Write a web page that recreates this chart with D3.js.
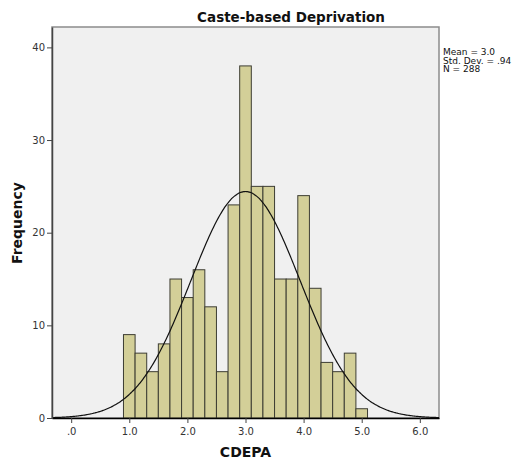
<!DOCTYPE html>
<html>
<head>
<meta charset="utf-8">
<script src="https://cdn.jsdelivr.net/npm/d3@7"></script>
<style>
  body { margin: 0; background: #fff; }
  text { font-family: "DejaVu Sans", sans-serif; }
</style>
</head>
<body>
<script>
// bin centres (width .2) and counts
var binCenters = [1.0, 1.2, 1.4, 1.6, 1.8, 2.0, 2.2, 2.4, 2.6, 2.8, 3.0, 3.2, 3.4, 3.6, 3.8, 4.0, 4.2, 4.4, 4.6, 4.8, 5.0];
var counts     = [9, 7, 5, 8, 15, 13, 16, 12, 5, 23, 38, 25, 25, 15, 15, 24, 14, 6, 5, 7, 1];
var xTicks = [0, 1, 2, 3, 4, 5, 6];
var yTicks = [0, 10, 20, 30, 40];
var statLines = ["Mean = 3.0", "Std. Dev. = .94", "N = 288"];
var mean = 3.0, sd = 0.94, n = 288, binWidth = 0.2;

var width = 522, height = 466;
var plotL = 52, plotR = 439, plotT = 27, plotB = 418;

var svg = d3.select("body").append("svg")
    .attr("width", width)
    .attr("height", height);

var x = d3.scaleLinear().domain([-0.33, 6.33]).range([plotL, plotR]);
var y = d3.scaleLinear().domain([0, 42.2]).range([plotB, plotT]);

// plot background
svg.append("rect")
   .attr("x", plotL).attr("y", plotT)
   .attr("width", plotR - plotL).attr("height", plotB - plotT)
   .attr("fill", "#f0f0f0")
   .attr("stroke", "#8c8c8c")
   .attr("stroke-width", 1.5);

// bars
svg.selectAll("rect.bar").data(counts).enter().append("rect")
   .attr("class", "bar")
   .attr("x", function(d, i) { return x(binCenters[i] - binWidth / 2); })
   .attr("y", function(d) { return y(d); })
   .attr("width", function(d, i) { return x(binCenters[i] + binWidth / 2) - x(binCenters[i] - binWidth / 2); })
   .attr("height", function(d) { return plotB - y(d); })
   .attr("fill", "#d3cf98")
   .attr("stroke", "#3d3d33")
   .attr("stroke-width", 1);

// normal curve
var curvePts = d3.range(-0.33, 6.331, 0.02).map(function(v) {
  var dens = Math.exp(-0.5 * Math.pow((v - mean) / sd, 2)) / (sd * Math.sqrt(2 * Math.PI));
  return [v, dens * n * binWidth];
});
svg.append("path")
   .datum(curvePts)
   .attr("fill", "none")
   .attr("stroke", "#111")
   .attr("stroke-width", 1.2)
   .attr("d", d3.line()
      .x(function(d) { return x(d[0]); })
      .y(function(d) { return y(d[1]); })
      .curve(d3.curveBasis));

// axes
var xAxis = svg.append("g")
   .attr("transform", "translate(0," + plotB + ")")
   .call(d3.axisBottom(x).tickValues(xTicks).tickSize(5).tickSizeOuter(0).tickPadding(5)
      .tickFormat(function(d) { return d === 0 ? ".0" : d3.format(".1f")(d); }));
xAxis.select(".domain").attr("stroke", "#000").attr("stroke-width", 1.5);
xAxis.selectAll(".tick line").attr("stroke", "#444");
xAxis.selectAll("text").attr("fill", "#333").attr("font-size", "10px");

var yAxis = svg.append("g")
   .attr("transform", "translate(" + plotL + ",0)")
   .call(d3.axisLeft(y).tickValues(yTicks).tickSize(5).tickSizeOuter(0).tickPadding(2));
yAxis.select(".domain").attr("stroke", "#444").attr("stroke-width", 1.5);
yAxis.selectAll(".tick line").attr("stroke", "#444");
yAxis.selectAll("text").attr("fill", "#333").attr("font-size", "10px");

// title and axis labels
svg.append("text")
   .attr("x", 291).attr("y", 22)
   .attr("text-anchor", "middle")
   .attr("font-size", "13.5px").attr("font-weight", "bold")
   .attr("fill", "#111")
   .text("Caste-based Deprivation");

svg.append("text")
   .attr("x", x(3)).attr("y", 457)
   .attr("text-anchor", "middle")
   .attr("font-size", "14px").attr("font-weight", "bold")
   .attr("fill", "#111")
   .text("CDEPA");

svg.append("text")
   .attr("transform", "translate(22,223) rotate(-90)")
   .attr("text-anchor", "middle")
   .attr("font-size", "14px").attr("font-weight", "bold")
   .attr("fill", "#111")
   .text("Frequency");

// stats box
svg.selectAll("text.stat").data(statLines).enter().append("text")
   .attr("class", "stat")
   .attr("x", 443)
   .attr("y", function(d, i) { return 55 + i * 8.5; })
   .attr("font-size", "9px")
   .attr("fill", "#111")
   .text(function(d) { return d; });
</script>
</body>
</html>
